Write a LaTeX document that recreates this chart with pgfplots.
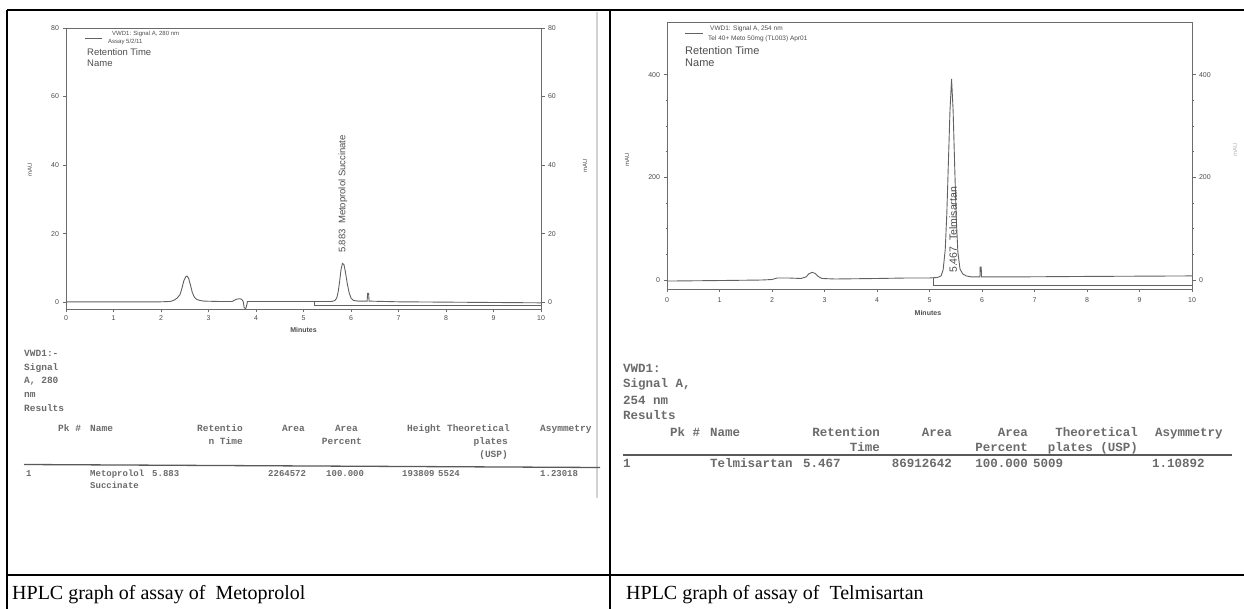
\documentclass[border=0pt]{standalone}
\usepackage{pgfplots}
\pgfplotsset{compat=1.18}
\usepackage{fontspec}
\setmainfont{Liberation Serif}
\newfontfamily\sans{Liberation Sans}
\newfontfamily\mono{Liberation Mono}
\definecolor{axisgray}{gray}{0.42}
\definecolor{tracegray}{gray}{0.38}
\definecolor{ticktext}{gray}{0.3}
\definecolor{tbltext}{gray}{0.42}
\newcommand\tickf{\sans\fontsize{7}{8}\selectfont}
\newcommand\tblL{\mono\bfseries\fontsize{9.5}{11}\selectfont}
\newcommand\tblLd{\mono\bfseries\fontsize{9}{11}\selectfont}
\newcommand\tblR{\mono\bfseries\fontsize{12.5}{14}\selectfont}
\pgfplotsset{
  chrom/.style={
    scale only axis, tick align=outside,
    major tick length=3.5pt, minor tick length=1.5pt,
    minor x tick num=4, xtick pos=lower,
    axis line style={draw=axisgray, line width=0.9pt},
    every tick/.style={draw=axisgray, line width=0.7pt},
    tick label style={font=\tickf, text=ticktext},
    /pgf/number format/assume math mode=true,
    label style={font=\sans\fontsize{6}{7}\selectfont, text=ticktext},
    xlabel style={font=\sans\bfseries\fontsize{7}{8}\selectfont, text=ticktext},
  },
  trace/.style={draw=tracegray, line width=0.9pt, mark=none},
}
\begin{document}
\begin{tikzpicture}
% ---------------- Left chromatogram ----------------
\begin{axis}[chrom, at={(66pt,-309pt)}, anchor=south west,
  width=475pt, height=281pt,
  xmin=0, xmax=10, ymin=-2, ymax=80,
  xtick={0,1,...,10}, ytick={0,20,40,60,80},
  xlabel={Minutes}, xlabel style={at={(axis description cs:0.5,-0.075)}, anchor=center},
  ylabel={mAU}, ylabel style={at={(axis description cs:-0.076,0.495)}, anchor=center}]
\addplot[trace] coordinates {
(0,0.1) (1.0,0.1) (2.0,0.1) (2.2,0.2) (2.28,0.6) (2.34,1.2) (2.4,2.2) (2.44,4.0)
(2.48,6.2) (2.52,7.4) (2.55,7.6) (2.58,7.0) (2.62,5.0) (2.66,2.8) (2.7,1.5)
(2.75,0.8) (2.82,0.5) (2.9,0.3) (3.2,0.2) (3.5,0.2) (3.55,0.6) (3.6,0.9)
(3.66,1.0) (3.7,0.8) (3.73,0.2) (3.75,-1.5) (3.78,-2.0) (3.8,-1.2) (3.82,0.2)
(4.5,0.2) (5.2,0.2) (5.6,0.2) (5.66,0.5) (5.7,1.2) (5.73,3.0) (5.76,6.0)
(5.79,9.5) (5.82,11.3) (5.85,11.0) (5.88,9.0) (5.92,5.5) (5.96,2.8) (6.0,1.2)
(6.05,0.5) (6.15,0.3) (6.34,0.3) (6.35,2.6) (6.37,2.6) (6.38,0.3) (7,0.1)
(8,0) (9,-0.1) (10,-0.2)};
\addplot[draw=tracegray, line width=0.7pt] coordinates {(5.22,0.2) (5.22,-1.0) (10,-1.0)};
\node[rotate=90, anchor=west, inner sep=0pt, font=\sans\fontsize{9.5}{10}\selectfont, text=ticktext]
  at (axis cs:5.83,14.3) {5.883\ \ Metoprolol Succinate};
\end{axis}
\begin{axis}[chrom, at={(66pt,-309pt)}, anchor=south west,
  width=475pt, height=281pt,
  xmin=0, xmax=10, ymin=-2, ymax=80,
  axis x line=none, axis y line*=right, ytick={0,20,40,60,80},
  ylabel={mAU}, ylabel style={at={(axis description cs:1.093,0.51)}, anchor=center}]
\end{axis}
% ---------------- Right chromatogram ----------------
\begin{axis}[chrom, at={(667pt,-289pt)}, anchor=south west,
  width=525pt, height=267pt,
  xmin=0, xmax=10, ymin=-17.5, ymax=503,
  xtick={0,1,...,10}, ytick={0,200,400}, minor y tick num=3,
  xticklabel style={yshift=-2pt},
  xlabel={Minutes}, xlabel style={at={(axis description cs:0.497,-0.09)}, anchor=center},
  ylabel={mAU}, ylabel style={at={(axis description cs:-0.076,0.483)}, anchor=center}]
\addplot[trace] coordinates {
(0,-2) (1.0,-1) (1.8,0) (2.0,1) (2.1,4) (2.3,4) (2.55,3) (2.65,6) (2.7,12)
(2.76,15) (2.82,13) (2.88,7) (2.95,3) (3.2,2) (4,3) (4.6,4) (5.0,4) (5.15,5)
(5.22,8) (5.26,20) (5.3,60) (5.33,130) (5.36,230) (5.39,330) (5.42,392)
(5.45,330) (5.48,220) (5.51,120) (5.54,55) (5.58,22) (5.63,12) (5.7,8)
(5.8,6) (5.96,6) (5.965,25) (5.985,25) (5.99,6) (6.5,6) (8,7) (10,8)};
\addplot[draw=tracegray, line width=0.7pt] coordinates {(5.08,4) (5.08,-10) (10,-10)};
\node[rotate=90, anchor=west, inner sep=0pt, font=\sans\fontsize{10.5}{11}\selectfont, text=ticktext]
  at (axis cs:5.45,13.7) {5.467\ \ Telmisartan};
\end{axis}
\begin{axis}[chrom, at={(667pt,-289pt)}, anchor=south west,
  width=525pt, height=267pt,
  xmin=0, xmax=10, ymin=-17.5, ymax=503,
  axis x line=none, axis y line*=right, ytick={0,200,400}, minor y tick num=3,
  ylabel={mAU}, ylabel style={at={(axis description cs:1.082,0.52)}, anchor=center, text=gray!60}]
\end{axis}
% ---------------- Frame, legends, tables, captions ----------------
\begin{scope}[x=1pt,y=-1pt]
\useasboundingbox (0,0) rectangle (1244,609);
\draw[line width=1.3pt] (7,10) -- (1244,10);
\draw[line width=1.3pt] (7,10) -- (7,609);
\draw[line width=1.3pt] (610,10) -- (610,609);
\draw[line width=1.3pt] (7,575) -- (1244,575);
\draw[gray!35, line width=1.2pt] (597,12) -- (597,498);
% left legend
\draw[tracegray, line width=0.6pt] (85,38) -- (102,38);
\node[anchor=west, inner sep=0pt, font=\sans\fontsize{6}{7}\selectfont, text=ticktext] at (112,34) {VWD1: Signal A, 280 nm};
\node[anchor=west, inner sep=0pt, font=\sans\fontsize{6}{7}\selectfont, text=ticktext] at (108,42) {Assay 5/2/11};
\node[anchor=west, inner sep=0pt, font=\sans\fontsize{9.5}{10}\selectfont, text=ticktext] at (87,52) {Retention Time};
\node[anchor=west, inner sep=0pt, font=\sans\fontsize{9.5}{10}\selectfont, text=ticktext] at (87,63) {Name};
% right legend
\draw[tracegray, line width=0.6pt] (685,33) -- (703,33);
\node[anchor=west, inner sep=0pt, font=\sans\fontsize{6.5}{7}\selectfont, text=ticktext] at (710,29) {VWD1: Signal A, 254 nm};
\node[anchor=west, inner sep=0pt, font=\sans\fontsize{6.5}{7}\selectfont, text=ticktext] at (708,39) {Tel 40+ Meto 50mg (TL003) Apr01};
\node[anchor=west, inner sep=0pt, font=\sans\fontsize{11}{12}\selectfont, text=ticktext] at (685,51) {Retention Time};
\node[anchor=west, inner sep=0pt, font=\sans\fontsize{11}{12}\selectfont, text=ticktext] at (685,63) {Name};
% left table
\begin{scope}[every node/.style={inner sep=0pt, font=\tblL, text=tbltext}]
\node[anchor=base west] at (24,356) {VWD1:-};
\node[anchor=base west] at (24,370) {Signal};
\node[anchor=base west] at (24,383) {A, 280};
\node[anchor=base west] at (24,397) {nm};
\node[anchor=base west] at (24,411) {Results};
\node[anchor=base west] at (58,431) {Pk \#};
\node[anchor=base west] at (90,431) {Name};
\node[anchor=base east] at (243,431) {Retentio};
\node[anchor=base east] at (243,444) {n Time};
\node[anchor=base east] at (305,431) {Area};
\node[anchor=base east] at (358,431) {Area};
\node[anchor=base east] at (362,444) {Percent};
\node[anchor=base west] at (407,431) {Height};
\node[anchor=base east] at (510,431) {Theoretical};
\node[anchor=base east] at (508,444) {plates};
\node[anchor=base east] at (508,457) {(USP)};
\node[anchor=base west] at (540,431) {Asymmetry};
\end{scope}
\begin{scope}[every node/.style={inner sep=0pt, font=\tblLd, text=tbltext}]
\node[anchor=base west] at (26,476) {1};
\node[anchor=base west] at (90,476) {Metoprolol};
\node[anchor=base west] at (90,488) {Succinate};
\node[anchor=base west] at (152,476) {5.883};
\node[anchor=base west] at (268,476) {2264572};
\node[anchor=base west] at (326,476) {100.000};
\node[anchor=base west] at (402,476) {193809};
\node[anchor=base west] at (438,476) {5524};
\node[anchor=base west] at (540,476) {1.23018};
\end{scope}
\draw[gray!70!black, line width=1.3pt] (24,464.5) -- (600,467.5);
% right table
\begin{scope}[every node/.style={inner sep=0pt, font=\tblR, text=tbltext}]
\node[anchor=base west] at (623,372) {VWD1:};
\node[anchor=base west] at (623,387) {Signal A,};
\node[anchor=base west] at (623,404) {254 nm};
\node[anchor=base west] at (623,419) {Results};
\node[anchor=base west] at (670,436) {Pk \#};
\node[anchor=base west] at (710,436) {Name};
\node[anchor=base east] at (880,436) {Retention};
\node[anchor=base east] at (880,451) {Time};
\node[anchor=base east] at (952,436) {Area};
\node[anchor=base east] at (1028,436) {Area};
\node[anchor=base east] at (1028,451) {Percent};
\node[anchor=base east] at (1138,436) {Theoretical};
\node[anchor=base east] at (1138,451) {plates (USP)};
\node[anchor=base west] at (1155,436) {Asymmetry};
\node[anchor=base west] at (623,467) {1};
\node[anchor=base west] at (710,467) {Telmisartan};
\node[anchor=base west] at (803,467) {5.467};
\node[anchor=base east] at (952,467) {86912642};
\node[anchor=base east] at (1028,467) {100.000};
\node[anchor=base west] at (1033,467) {5009};
\node[anchor=base west] at (1152,467) {1.10892};
\end{scope}
\draw[gray!70!black, line width=1.3pt] (623,455) -- (1232,455);
% captions
\node[anchor=base west, inner sep=0pt, font=\fontsize{20}{24}\selectfont] at (12,599) {HPLC graph of assay of\ \ Metoprolol};
\node[anchor=base west, inner sep=0pt, font=\fontsize{20}{24}\selectfont] at (626,599) {HPLC graph of assay of\ \ Telmisartan};
\end{scope}
\end{tikzpicture}
\end{document}
